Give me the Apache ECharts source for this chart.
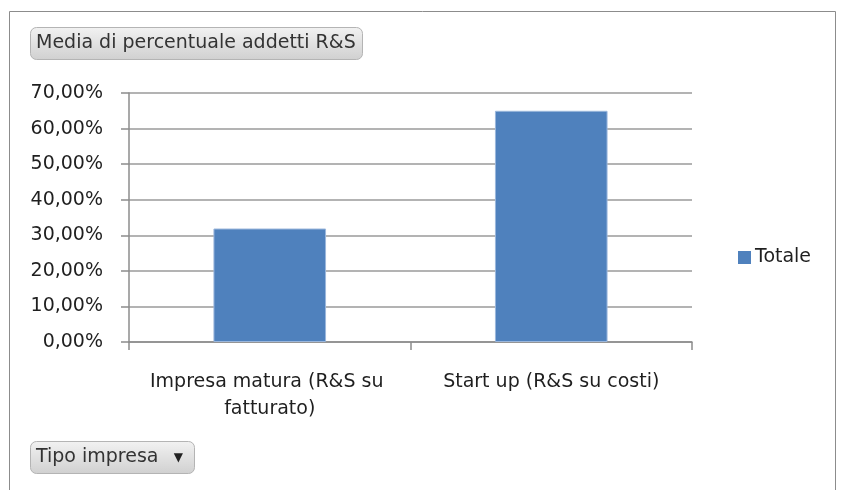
<!DOCTYPE html>
<html>
<head>
<meta charset="utf-8">
<script src="https://cdn.jsdelivr.net/npm/echarts@6/dist/echarts.min.js"></script>
<style>
  html, body { margin: 0; padding: 0; background: #fff; }
  #chart { width: 844px; height: 490px; }
</style>
</head>
<body>
<div id="chart"></div>
<script>
// data
const categories = ['Impresa matura (R&S su fatturato)', 'Start up (R&S su costi)']
const totale = [0.319, 0.650]
const seriesName = 'Totale'
const fieldTitle = 'Media di percentuale addetti R&S'
const filterTitle = 'Tipo impresa'

const textColor = '#1f1f1f'
const font = 'DejaVu Sans'
const labelSize = 19

const chart = echarts.init(document.getElementById('chart'))

const buttonBg = new echarts.graphic.LinearGradient(0, 0, 0, 1, [
    { offset: 0, color: '#f2f2f2' },
    { offset: 1, color: '#d0d0d0' }
])

const option = {
    backgroundColor: '#fff',
    animation: false,
    textStyle: { fontFamily: font },
    title: [
        {
            text: fieldTitle,
            left: 30,
            top: 27,
            padding: [7, 7, 7, 6],
            backgroundColor: buttonBg,
            borderColor: '#b4b4b4',
            borderWidth: 1,
            borderRadius: 6,
            textStyle: { fontFamily: font, fontSize: 19, fontWeight: 'normal', color: '#333' }
        },
        {
            text: '{a|' + filterTitle + '}{b|    ▼}',
            left: 30,
            top: 441,
            padding: [7, 12, 7, 6],
            backgroundColor: buttonBg,
            borderColor: '#b4b4b4',
            borderWidth: 1,
            borderRadius: 6,
            textStyle: {
                fontWeight: 'normal',
                rich: {
                    a: { fontFamily: font, fontSize: 19, fontWeight: 'normal', color: '#333' },
                    b: { fontFamily: font, fontSize: 12, fontWeight: 'normal', color: '#222' }
                }
            }
        }
    ],
    graphic: [
        {
            type: 'rect',
            shape: { x: 9.5, y: 11.5, width: 826, height: 520 },
            style: { fill: 'none', stroke: '#8c8c8c', lineWidth: 1 },
            silent: true,
            z: -1
        }
    ],
    legend: {
        orient: 'vertical',
        left: 733,
        top: 243,
        itemWidth: 13,
        itemHeight: 13,
        itemGap: 5,
        icon: 'rect',
        itemStyle: { borderWidth: 0 },
        textStyle: { fontFamily: font, fontSize: labelSize, color: textColor, padding: [0, 0, 0, -1] },
        data: [seriesName]
    },
    grid: {
        left: 129,
        right: 152,
        top: 93,
        bottom: 148
    },
    xAxis: {
        type: 'category',
        data: categories,
        axisLine: { lineStyle: { color: '#8c8c8c', width: 1.5 } },
        axisTick: { show: true, length: 8, alignWithLabel: false, lineStyle: { color: '#8c8c8c', width: 1.5 } },
        axisLabel: {
            color: textColor,
            fontFamily: font,
            fontSize: labelSize,
            margin: 27,
            lineHeight: 27,
            width: 268,
            overflow: 'break',
            interval: 0
        }
    },
    yAxis: {
        type: 'value',
        min: 0,
        max: 0.7,
        interval: 0.1,
        axisLine: { show: true, lineStyle: { color: '#8c8c8c', width: 1.5 } },
        axisTick: { show: true, length: 8, lineStyle: { color: '#8c8c8c', width: 1.5 } },
        splitLine: { lineStyle: { color: '#9a9a9a', width: 1.5 } },
        axisLabel: {
            color: textColor,
            fontFamily: font,
            fontSize: labelSize,
            margin: 26,
            formatter: v => (v * 100).toFixed(2).replace('.', ',') + '%'
        }
    },
    series: [
        {
            name: seriesName,
            type: 'bar',
            data: totale,
            barWidth: '40%',
            itemStyle: {
                color: '#4f81bd',
                borderColor: '#9bb7dc',
                borderWidth: 1
            }
        }
    ]
}

chart.setOption(option)
</script>
</body>
</html>
